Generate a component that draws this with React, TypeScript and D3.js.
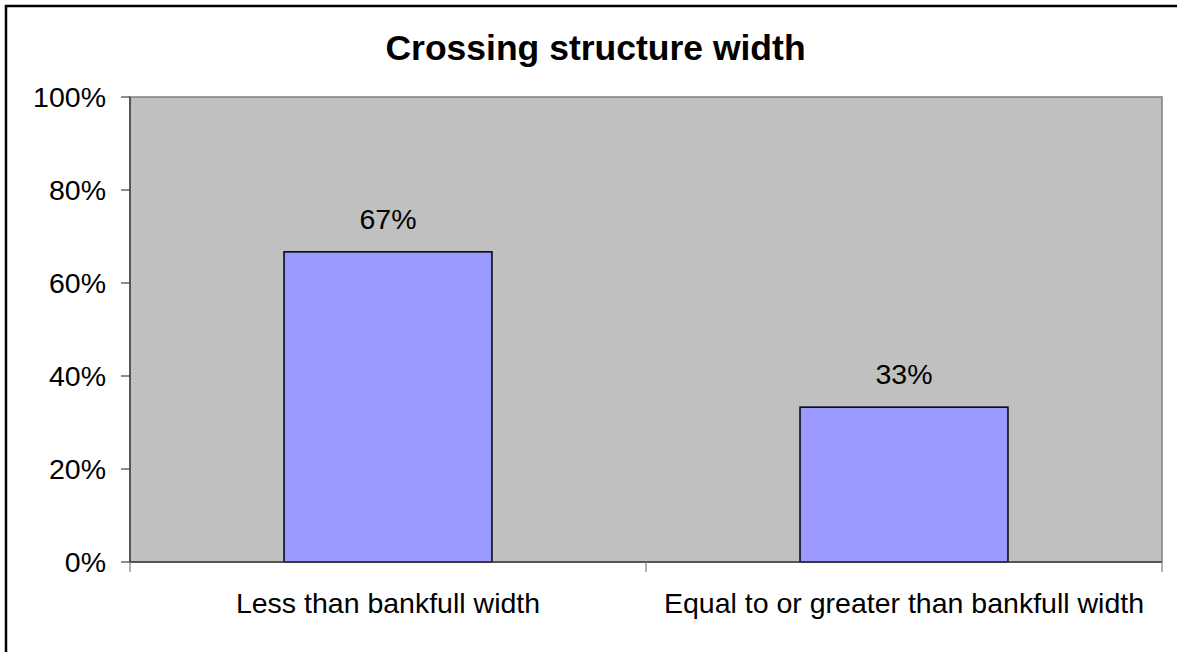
import React from "react";
import * as d3 from "d3";

const categories = ["Less than bankfull width", "Equal to or greater than bankfull width"];
const values = [0.667, 0.333];
const valueLabels = ["67%", "33%"];
const yTicks = [0, 0.2, 0.4, 0.6, 0.8, 1.0];
const title = "Crossing structure width";

export default function App() {
  const W = 1177, H = 652;
  const left = 130, right = 1162, top = 97, bottom = 562;
  const x = d3.scaleBand<string>().domain(categories).range([left, right]).padding(0);
  const y = d3.scaleLinear().domain([0, 1]).range([bottom, top]);
  const barW = x.bandwidth() * 0.403;
  const font = "'Liberation Sans', Arial, sans-serif";
  const fmt = d3.format(".0%");
  return (
    <svg width={W} height={H} style={{ position: "absolute", left: 0, top: 0, display: "block" }} fontFamily={font}>
      <rect x={0} y={0} width={W} height={H} fill="#fff" />
      <rect x={6} y={6} width={W + 10} height={H + 10} fill="none" stroke="#000" strokeWidth={2.5} />
      <text x={595.5} y={60} textAnchor="middle" fontSize={35.5} fontWeight="bold" fill="#000">{title}</text>
      <rect x={left} y={top} width={right - left} height={bottom - top} fill="#C0C0C0" stroke="#808080" strokeWidth={1.5} />
      {categories.map((c, i) => {
        const cx = (x(c) as number) + x.bandwidth() / 2;
        return (
          <g key={c}>
            <rect x={cx - barW / 2} y={y(values[i])} width={barW} height={bottom - y(values[i])} fill="#9999FF" stroke="#000" strokeWidth={1.5} />
            <text x={cx} y={y(values[i]) - 23} textAnchor="middle" fontSize={28.5} fill="#000">{valueLabels[i]}</text>
            <text x={cx} y={613} textAnchor="middle" fontSize={28.5} fill="#000">{c}</text>
          </g>
        );
      })}
      <line x1={left} x2={left} y1={top} y2={bottom} stroke="#404040" strokeWidth={1.5} />
      <line x1={left} x2={right} y1={bottom} y2={bottom} stroke="#404040" strokeWidth={1.5} />
      {yTicks.map((t) => (
        <g key={t}>
          <line x1={left - 9} x2={left} y1={y(t)} y2={y(t)} stroke="#404040" strokeWidth={1.2} />
          <text x={106} y={y(t)} dy="0.36em" textAnchor="end" fontSize={28.5} fill="#000">{fmt(t)}</text>
        </g>
      ))}
      {[left, ...categories.map((c) => (x(c) as number) + x.bandwidth())].map((tx, i) => (
        <line key={i} x1={tx} x2={tx} y1={bottom} y2={bottom + 10} stroke="#808080" strokeWidth={1.2} />
      ))}
    </svg>
  );
}
